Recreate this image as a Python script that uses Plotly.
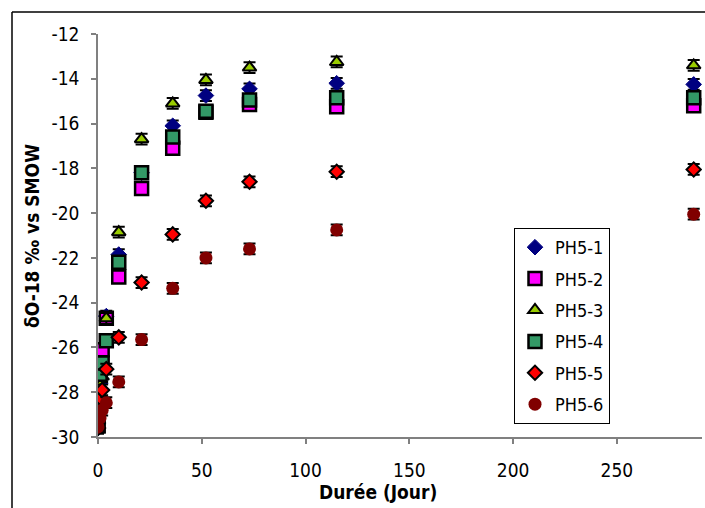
import plotly.graph_objects as go

days = [0, 1, 2, 4, 10, 21, 36, 52, 73, 115, 287]
ph5_1 = [-29.6, -27.6, -26.8, -24.6, -21.85, -18.2, -16.1, -14.75, -14.45, -14.2, -14.25]
ph5_2 = [-29.5, -26.9, -26.1, -24.7, -22.85, -18.9, -17.1, -15.5, -15.15, -15.25, -15.2]
ph5_3 = [-29.5, -27.7, -27.3, -24.7, -20.85, -16.7, -15.1, -14.05, -13.5, -13.25, -13.4]
ph5_4 = [-29.5, -27.2, -26.7, -25.7, -22.2, -18.2, -16.6, -15.45, -14.95, -14.85, -14.85]
ph5_5 = [-29.6, -28.25, -27.9, -26.97, -25.55, -23.1, -20.95, -19.45, -18.6, -18.15, -18.05]
ph5_6 = [-29.55, -29.15, -28.8, -28.47, -27.54, -25.65, -23.36, -22.0, -21.6, -20.75, -20.05]
err = 0.24

x_ticks = [0, 50, 100, 150, 200, 250]
y_ticks = [-30, -28, -26, -24, -22, -20, -18, -16, -14, -12]
y_tick_labels = ["-30", "-28", "-26", "-24", "-22", "-20", "-18", "-16", "-14", "-12"]

names = ["PH5-1", "PH5-2", "PH5-3", "PH5-4", "PH5-5", "PH5-6"]
series = [ph5_1, ph5_2, ph5_3, ph5_4, ph5_5, ph5_6]
styles = [
    dict(symbol="diamond", color="#000080", size=12, line=dict(color="#000080", width=1)),
    dict(symbol="square", color="#FF00FF", size=13, line=dict(color="black", width=2.5)),
    dict(symbol="triangle-up", color="#99CC00", size=12, line=dict(color="black", width=2)),
    dict(symbol="square", color="#339966", size=13, line=dict(color="black", width=2.5)),
    dict(symbol="diamond", color="#FF0000", size=11, line=dict(color="black", width=2)),
    dict(symbol="circle", color="#800000", size=13, line=dict(color="#800000", width=0)),
]

FONT = "DejaVu Sans Condensed, DejaVu Sans, sans-serif"
L, R, T, B = 98, 3, 34, 71
PW, PH = 705 - L - R, 508 - T - B

def px(x):
    return (x - L) / PW

def py(y):
    return (508 - B - y) / PH

fig = go.Figure()
for n, s, st in zip(names, series, styles):
    fig.add_trace(go.Scatter(
        x=days, y=s, mode="markers", name=n, legendgroup=n,
        marker=st,
        error_y=dict(type="constant", value=err, color="black", thickness=2, width=6),
    ))

fig.update_layout(
    width=705, height=508,
    margin=dict(l=L, r=R, t=T, b=B),
    paper_bgcolor="white", plot_bgcolor="white",
    font=dict(family=FONT, size=18, color="black"),
    showlegend=True,
    legend=dict(
        x=px(514), y=py(228), xanchor="left", yanchor="top",
        bordercolor="black", borderwidth=1, bgcolor="white",
        font=dict(family=FONT, size=18), tracegroupgap=5,
    ),
    xaxis=dict(
        range=[0, 291], tickvals=x_ticks, showgrid=False, zeroline=False,
        showline=True, linecolor="#808080", linewidth=1.5,
        ticks="outside", ticklen=5, tickcolor="#808080", tickwidth=1.5,
        tickfont=dict(size=19), ticklabelstandoff=10,
    ),
    yaxis=dict(
        range=[-30, -12], tickvals=y_ticks, ticktext=y_tick_labels,
        showgrid=False, zeroline=False,
        showline=True, linecolor="#808080", linewidth=1.5,
        ticks="outside", ticklen=5, tickcolor="#808080", tickwidth=1.5,
        tickfont=dict(size=19), ticklabelstandoff=8,
    ),
    annotations=[
        dict(text="<b>Durée (Jour)</b>", xref="paper", yref="paper",
             x=px(378), y=py(492), xanchor="center", yanchor="middle",
             showarrow=False, font=dict(size=19)),
        dict(text="<b>δO-18 ‰ vs SMOW</b>", xref="paper", yref="paper",
             x=px(32), y=py(236), xanchor="center", yanchor="middle",
             textangle=-90, showarrow=False, font=dict(size=19)),
    ],
    shapes=[
        dict(type="line", xref="paper", yref="paper",
             x0=px(12), x1=px(706), y0=py(12), y1=py(12),
             line=dict(color="black", width=1.5)),
        dict(type="line", xref="paper", yref="paper",
             x0=px(12), x1=px(12), y0=py(12), y1=py(510),
             line=dict(color="black", width=1.5)),
    ],
)

fig.write_html("out.html")
